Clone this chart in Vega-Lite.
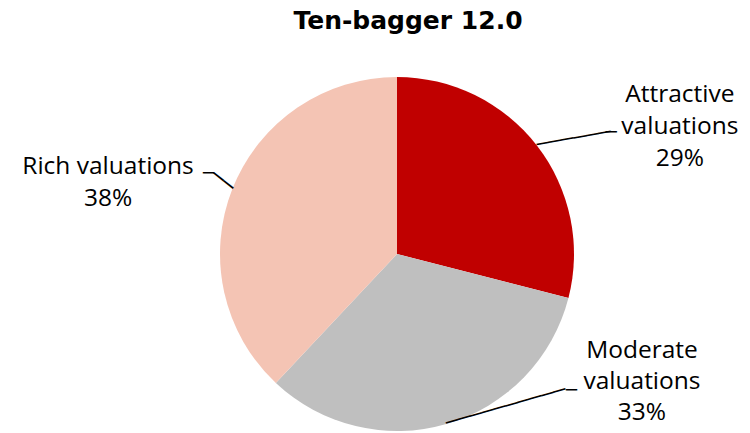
{
  "$schema": "https://vega.github.io/schema/vega-lite/v6.json",
  "width": 706,
  "height": 358,
  "autosize": {"type": "none"},
  "padding": {"left": 44, "top": 75, "right": 0, "bottom": 0},
  "background": "white",
  "view": {"stroke": null},
  "title": {
    "text": "Ten-bagger 12.0",
    "font": "DejaVu Sans",
    "fontSize": 25,
    "fontWeight": "bold",
    "color": "#000000",
    "anchor": "middle",
    "frame": "group",
    "baseline": "alphabetic",
    "offset": 6,
    "dx": 11
  },
  "data": {
    "values": [
      {"segment": "Attractive valuations", "value": 29, "order": 1, "label": "Attractive\nvaluations\n29%"},
      {"segment": "Moderate valuations", "value": 33, "order": 2, "label": "Moderate\nvaluations\n33%"},
      {"segment": "Rich valuations", "value": 38, "order": 3, "label": "Rich valuations\n38%"}
    ]
  },
  "encoding": {
    "theta": {"field": "value", "type": "quantitative", "stack": true},
    "order": {"field": "order", "type": "quantitative"}
  },
  "layer": [
    {
      "mark": {"type": "arc", "outerRadius": 177},
      "encoding": {
        "color": {
          "field": "segment",
          "type": "nominal",
          "scale": {
            "domain": ["Attractive valuations", "Moderate valuations", "Rich valuations"],
            "range": ["#C00000", "#BFBFBF", "#F4C4B4"]
          },
          "legend": null
        }
      }
    },
    {
      "mark": {"type": "text", "radius": 177, "font": "Open Sans", "fontSize": 24.5, "lineBreak": "\n", "lineHeight": 32, "align": "center", "baseline": "middle", "dx": 143, "dy": -50.5, "color": "#000000"},
      "encoding": {"text": {"condition": {"test": "datum.segment === 'Attractive valuations'", "field": "label"}, "value": ""}}
    },
    {
      "mark": {"type": "text", "radius": 177, "font": "Open Sans", "fontSize": 24.5, "lineBreak": "\n", "lineHeight": 31, "align": "center", "baseline": "middle", "dx": 195.6, "dy": -73, "color": "#000000"},
      "encoding": {"text": {"condition": {"test": "datum.segment === 'Moderate valuations'", "field": "label"}, "value": ""}}
    },
    {
      "mark": {"type": "text", "radius": 177, "font": "Open Sans", "fontSize": 24.5, "lineBreak": "\n", "lineHeight": 32, "align": "center", "baseline": "middle", "dx": -124.4, "dy": -22, "color": "#000000"},
      "encoding": {"text": {"condition": {"test": "datum.segment === 'Rich valuations'", "field": "label"}, "value": ""}}
    },
    {
      "mark": {"type": "text", "radius": 177, "font": "DejaVu Sans", "fontSize": 20.8, "align": "left", "baseline": "middle", "angle": -10, "color": "#000000"},
      "encoding": {"text": {"condition": {"test": "datum.segment === 'Attractive valuations'", "value": "──────"}, "value": ""}}
    },
    {
      "mark": {"type": "text", "radius": 177, "font": "DejaVu Sans", "fontSize": 18.3, "align": "left", "baseline": "middle", "dx": 69, "dy": -12.2, "color": "#000000"},
      "encoding": {"text": {"condition": {"test": "datum.segment === 'Attractive valuations'", "value": "─"}, "value": ""}}
    },
    {
      "mark": {"type": "text", "radius": 177, "font": "DejaVu Sans", "fontSize": 20.6, "align": "left", "baseline": "middle", "angle": -16, "color": "#000000"},
      "encoding": {"text": {"condition": {"test": "datum.segment === 'Moderate valuations'", "value": "──────────"}, "value": ""}}
    },
    {
      "mark": {"type": "text", "radius": 177, "font": "DejaVu Sans", "fontSize": 18.3, "align": "left", "baseline": "middle", "dx": 119.6, "dy": -33.2, "color": "#000000"},
      "encoding": {"text": {"condition": {"test": "datum.segment === 'Moderate valuations'", "value": "─"}, "value": ""}}
    },
    {
      "mark": {"type": "text", "radius": 177, "font": "DejaVu Sans", "fontSize": 20.5, "align": "right", "baseline": "middle", "angle": 38.3, "color": "#000000"},
      "encoding": {"text": {"condition": {"test": "datum.segment === 'Rich valuations'", "value": "──"}, "value": ""}}
    },
    {
      "mark": {"type": "text", "radius": 177, "font": "DejaVu Sans", "fontSize": 18.3, "align": "left", "baseline": "middle", "dx": -29.4, "dy": -14.5, "color": "#000000"},
      "encoding": {"text": {"condition": {"test": "datum.segment === 'Rich valuations'", "value": "─"}, "value": ""}}
    }
  ]
}
